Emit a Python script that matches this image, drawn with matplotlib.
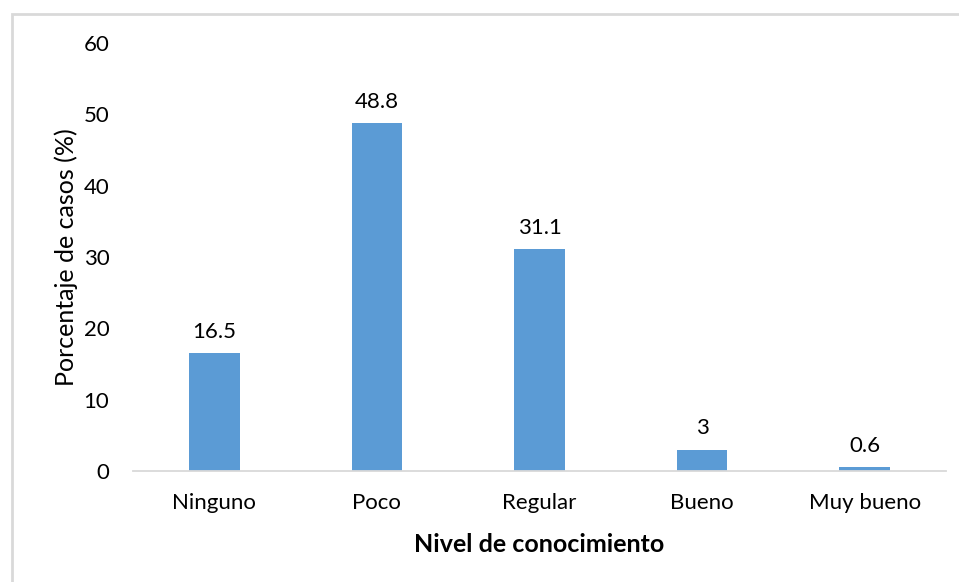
import matplotlib
matplotlib.use("Agg")
import matplotlib.pyplot as plt
from matplotlib.patches import Rectangle

categories = ["Ninguno", "Poco", "Regular", "Bueno", "Muy bueno"]
values = [16.5, 48.8, 31.1, 3, 0.6]
value_labels = ["16.5", "48.8", "31.1", "3", "0.6"]
y_ticks = [0, 10, 20, 30, 40, 50, 60]

plt.rcParams["font.family"] = ["Lato", "DejaVu Sans"]

W, H = 959, 582
fig = plt.figure(figsize=(W / 100, H / 100), dpi=100)

# light grey chart frame
fig.patches.append(Rectangle((11.5 / W, -0.05), 1.1, 1 - 13.5 / H + 0.05,
                             transform=fig.transFigure, fill=False,
                             edgecolor="#D9D9D9", linewidth=2))

ax = fig.add_axes([133 / W, 1 - 471 / H, (946 - 133) / W, (471 - 43) / H])
x = range(len(categories))
ax.bar(x, values, width=0.31, color="#5B9BD5")
ax.set_xlim(-0.5, len(categories) - 0.5)
ax.set_ylim(0, 60)
ax.set_yticks(y_ticks)
ax.set_xticks(list(x))
ax.set_xticklabels(categories)
ax.tick_params(axis="both", length=0, labelsize=16, colors="#000000")
ax.tick_params(axis="y", pad=17)
ax.tick_params(axis="x", pad=16)

for s in ["top", "right", "left"]:
    ax.spines[s].set_visible(False)
ax.spines["bottom"].set_color("#D9D9D9")
ax.spines["bottom"].set_linewidth(1.3)

for xi, v, lab in zip(x, values, value_labels):
    ax.annotate(lab, (xi, v), xytext=(0, 8), textcoords="offset points",
                ha="center", va="bottom", fontsize=16)

ax.set_ylabel("Porcentaje de casos (%)", fontsize=18, labelpad=4)
ax.set_xlabel("Nivel de conocimiento", fontsize=18, fontweight="bold", labelpad=14)

fig.savefig("out.png", dpi=100)
